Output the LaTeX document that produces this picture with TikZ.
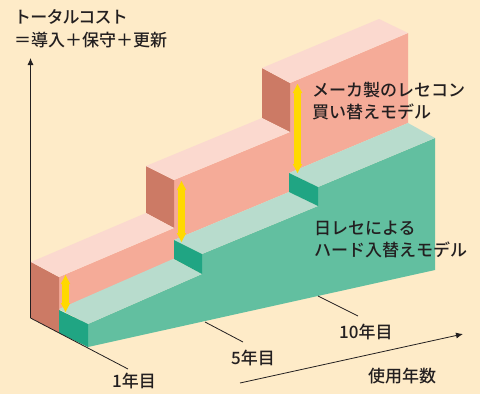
\documentclass[tikz,border=0pt]{standalone}
\usepackage{fontspec}
\setmainfont{Noto Sans CJK JP Medium}
\usetikzlibrary{arrows.meta}
\definecolor{bg}{HTML}{FEEBC8}
\definecolor{salmon}{HTML}{F5AB98}
\definecolor{salmontop}{HTML}{FBD9CF}
\definecolor{salmonside}{HTML}{CC7A65}
\definecolor{greenface}{HTML}{62BFA0}
\definecolor{greentop}{HTML}{B8DCCD}
\definecolor{greenriser}{HTML}{20A583}
\definecolor{yel}{HTML}{FFD900}
\definecolor{ink}{HTML}{231F20}
\newcommand{\costarrow}[2]{\fill[yel] (#1) -- ++(4.7,9) -- ++(-1.4,0) |- (#2) ++(0,0) -- cycle;}
\tikzset{
  label text/.style={text=ink,font=\fontsize{17}{20}\selectfont,inner sep=0pt,anchor=base west,align=left},
  axis line/.style={draw=ink,line width=0.8pt},
  axis arrow/.style={axis line,-{Latex[length=7pt,width=6pt]}},
}
\begin{document}
\begin{tikzpicture}[x=1pt,y=-1pt]
\useasboundingbox (0,0) rectangle (480,394);
\fill[bg] (0,0) rectangle (480,394);
% salmon blocks
\fill[salmon] (59,277) -- (174,228) -- (174,180) -- (290,132) -- (290,83) -- (408,33) -- (408,123) -- (289,173) -- (289,192) -- (174,240) -- (174,259) -- (59,310) -- cycle;
\fill[salmonside] (31,262) -- (59,277) -- (59,333) -- (31,318) -- cycle;
\fill[salmonside] (146,166) -- (174,180) -- (174,228) -- (146,213) -- cycle;
\fill[salmonside] (262,68) -- (290,83) -- (290,132) -- (262,118) -- cycle;
\fill[salmontop] (31,262) -- (146,213) -- (174,228) -- (59,277) -- cycle;
\fill[salmontop] (146,166) -- (262,118) -- (290,132) -- (174,180) -- cycle;
\fill[salmontop] (262,68) -- (379,19) -- (408,33) -- (290,83) -- cycle;
% green steps
\fill[greenface] (88,347) -- (88,324) -- (202,274) -- (202,254) -- (318,206) -- (318,187) -- (435,138) -- (435,270) -- cycle;
\fill[greentop] (59,309) -- (173,259) -- (202,274) -- (88,324) -- cycle;
\fill[greentop] (174,240) -- (289,192) -- (318,206) -- (202,254) -- cycle;
\fill[greentop] (289,173) -- (408,123) -- (435,138) -- (318,187) -- cycle;
\fill[greenriser] (59,310) -- (88,324) -- (88,347) -- (59,333) -- cycle;
\fill[greenriser] (174,240) -- (202,254) -- (202,274) -- (174,259) -- cycle;
\fill[greenriser] (289,173) -- (318,187) -- (318,206) -- (289,192) -- cycle;
% axes
\coordinate (origin) at (30.5,318);
\coordinate (ytip) at (30.5,58);
\coordinate (one) at (128,369);
\coordinate (fiveA) at (205,322);
\coordinate (fiveB) at (243,342);
\coordinate (tenA) at (318,296);
\coordinate (tenB) at (358,316);
\coordinate (useA) at (240,383);
\coordinate (useB) at (463,334);
\draw[axis arrow] (origin) -- (ytip);
\draw[axis line] (origin) -- (one);
\draw[axis line] (fiveA) -- (fiveB);
\draw[axis line] (tenA) -- (tenB);
\draw[axis arrow] (useA) -- (useB);
% yellow double arrows (filled outlines)
\foreach \x/\t/\b in {65.5/275/312, 181.5/181/242, 297.5/84/173}{
  \fill[yel] (\x,\t) -- (\x+4.7,\t+9) -- (\x+3.3,\t+9) -- (\x+3.3,\b-9) -- (\x+4.7,\b-9) -- (\x,\b)
     -- (\x-4.7,\b-9) -- (\x-3.3,\b-9) -- (\x-3.3,\t+9) -- (\x-4.7,\t+9) -- cycle;
}
% labels
\node[label text] (t1) at (14,23) {\addfontfeature{LetterSpace=-5}トータルコスト};
\node[label text] (t2) at (14,46) {＝導入＋保守＋更新};
\node[label text] (t3) at (312,96) {メーカ製のレセコン};
\node[label text] (t4) at (312,118) {買い替えモデル};
\node[label text] (t5) at (314,234) {日レセによる};
\node[label text] (t6) at (314,256) {ハード入替えモデル};
\node[label text] (t7) at (112,387) {1年目};
\node[label text] (t8) at (231,364) {5年目};
\node[label text] (t9) at (339,338) {10年目};
\node[label text] (t10) at (368,382) {使用年数};
\end{tikzpicture}
\end{document}
